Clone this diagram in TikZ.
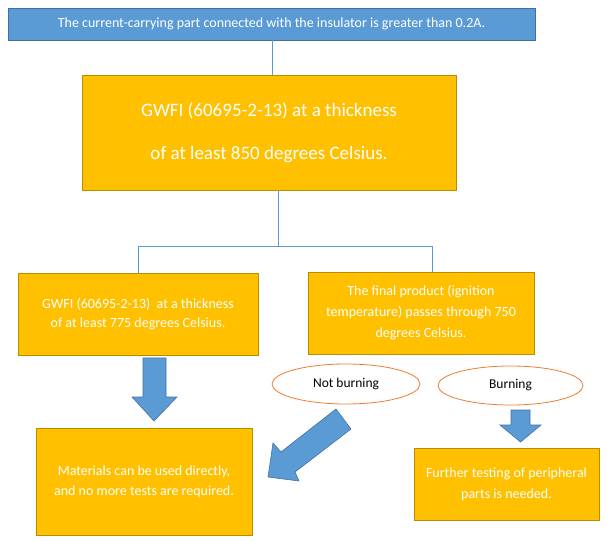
\documentclass[tikz,border=0pt]{standalone}
\usepackage{fontspec}
\setmainfont{Carlito}
\usetikzlibrary{shapes.geometric}
\definecolor{bblue}{HTML}{5B9BD5}
\definecolor{bblueline}{HTML}{41719C}
\definecolor{gold}{HTML}{FFC000}
\definecolor{goldline}{HTML}{BC8C00}
\definecolor{ellline}{HTML}{ED7D31}
\begin{document}
\begin{tikzpicture}[x=1pt,y=-1pt,
  bluebox/.style={draw=bblueline,fill=bblue,line width=0.8pt,text=white,inner sep=0pt,align=center},
  goldbox/.style={draw=goldline,fill=gold,line width=0.8pt,text=white,inner sep=0pt,align=center},
  oval/.style={ellipse,draw=ellline,fill=white,line width=0.8pt,inner sep=0pt,text=black},
  conn/.style={draw=bblue,line width=0.8pt},
  blockarrow/.style={fill=bblue,draw=bblueline,line width=0.6pt,line join=miter}]
\useasboundingbox (0,0) rectangle (611,541);
\fill[white] (0,0) rectangle (611,541);
\node[bluebox,minimum width=527pt,minimum height=32pt,font=\fontsize{14}{16}\selectfont] (top) at (271.5,24) {The current-carrying part connected with the insulator is greater than 0.2A.};
\node[goldbox,minimum width=374pt,minimum height=115pt,font=\fontsize{19}{43}\selectfont] (big) at (269,132.5) {GWFI (60695-2-13) at a thickness\\of at least 850 degrees Celsius.};
\node[goldbox,minimum width=240pt,minimum height=82pt,font=\fontsize{14}{19}\selectfont] (left) at (138,314) {GWFI (60695-2-13)\ \ at a thickness\\of at least 775 degrees Celsius.};
\node[goldbox,minimum width=226pt,minimum height=82pt,font=\fontsize{14}{21}\selectfont] (right) at (421,313) {The final product (ignition\\temperature) passes through 750\\degrees Celsius.};
\node[goldbox,minimum width=216pt,minimum height=107pt,font=\fontsize{14}{20}\selectfont] (mat) at (144,481.5) {Materials can be used directly,\\and no more tests are required.};
\node[goldbox,minimum width=185pt,minimum height=72pt,font=\fontsize{14}{21}\selectfont] (fur) at (506.5,484) {Further testing of peripheral\\parts is needed.};
\node[oval,minimum width=148pt,minimum height=40pt,font=\fontsize{13.5}{15}\selectfont] (nb) at (346,384) {Not burning};
\node[oval,minimum width=145pt,minimum height=39pt,font=\fontsize{13.5}{15}\selectfont] (b) at (510.5,385.5) {Burning};
% connectors
\draw[conn] ([xshift=0.5pt]top.south) -- ([xshift=0.5pt]top.south |- big.north);
\draw[conn] ([xshift=9pt]big.south) -- ++(0,56) coordinate (j);
\draw[conn] (left.north) |- (j) -| ([xshift=11pt]right.north);
% block arrows
\draw[blockarrow] (143,358) -- (166,358) -- (166,397) -- (177,397) -- (154,421) -- (132,397) -- (143,397) -- cycle;
\draw[blockarrow] (511,410) -- (530,410) -- (530,425) -- (541,425) -- (520.5,442) -- (500,425) -- (511,425) -- cycle;
\draw[blockarrow] (336,409) -- (351,429) -- (295,472) -- (299,481) -- (268,477) -- (273,443) -- (281,452) -- cycle;
\end{tikzpicture}
\end{document}
